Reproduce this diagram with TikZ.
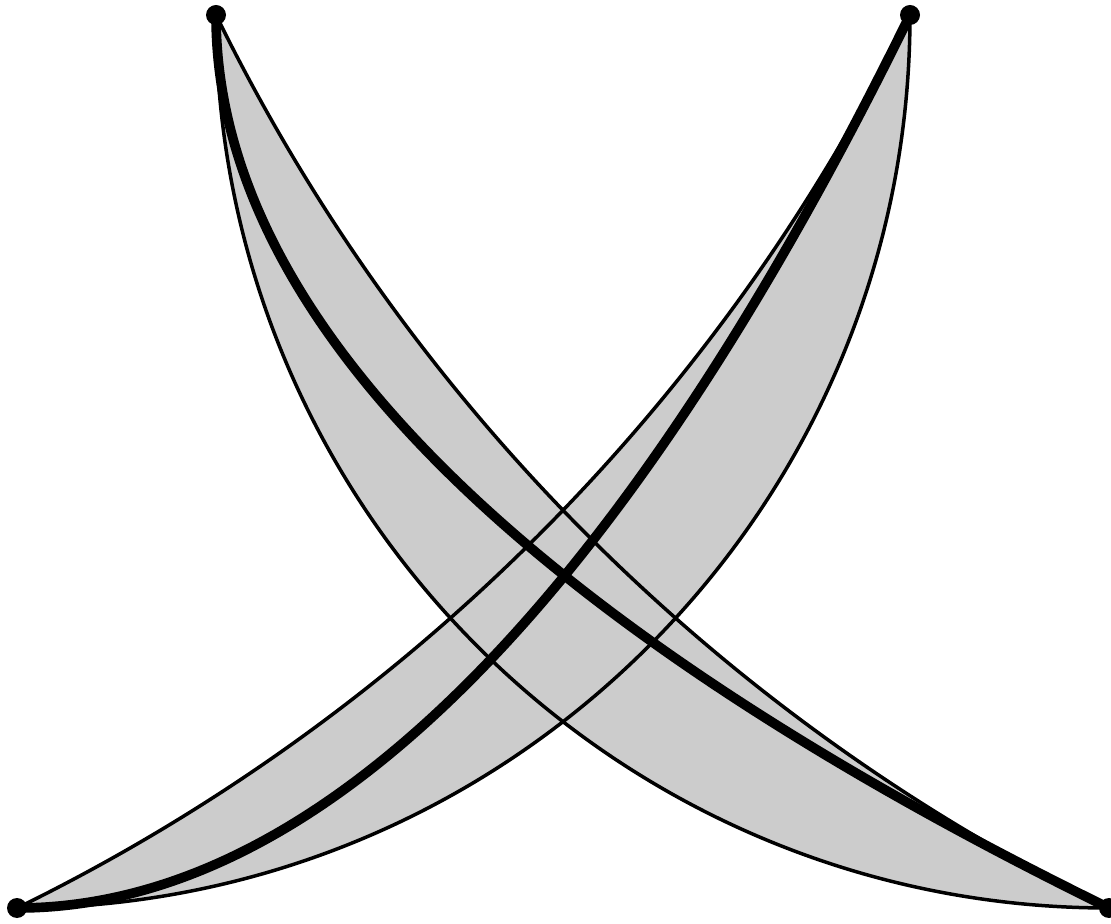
\documentclass[tikz,border=0pt]{standalone}
\definecolor{lensgray}{RGB}{204,204,204}
\begin{document}
\begin{tikzpicture}[x=0.6pt,y=0.6pt,
  thinline/.style={line width=2.1pt},
  thickline/.style={line width=5.8pt},
  lens/.style={fill=lensgray},
  dot/.style={circle,fill=black,inner sep=0pt,minimum size=12pt}]
\useasboundingbox (0,0) rectangle (1111,923);
\coordinate (TL) at (216,908);
\coordinate (TR) at (910,908);
\coordinate (BL) at (17,15);
\coordinate (BR) at (1109,15);
% lens fills
\fill[lens] (TL) arc[start angle=206.09,end angle=243.91,radius=1949]
  arc[start angle=270,end angle=180,radius=893] -- cycle;
\fill[lens] (TR) arc[start angle=-26.09,end angle=-63.91,radius=1949]
  arc[start angle=270,end angle=360,radius=893] -- cycle;
% thin boundaries
\draw[thinline] (TL) arc[start angle=206.09,end angle=243.91,radius=1949];
\draw[thinline] (TL) arc[start angle=180,end angle=270,radius=893];
\draw[thinline] (TR) arc[start angle=-26.09,end angle=-63.91,radius=1949];
\draw[thinline] (TR) arc[start angle=0,end angle=-90,radius=893];
% thick curves
\draw[thickline] (TL) .. controls (216,508) and (750,191) .. (BR);
\draw[thickline] (TR) .. controls (734,549) and (417,15) .. (BL);
% end points
\node[dot] (tl) at (TL) {};
\node[dot] (tr) at (TR) {};
\node[dot] (bl) at (BL) {};
\node[dot] (br) at (BR) {};
\end{tikzpicture}
\end{document}
